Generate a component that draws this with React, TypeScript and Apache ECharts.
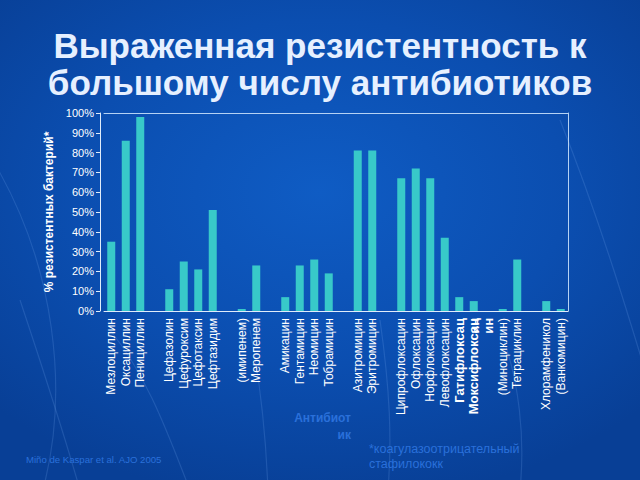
import React, { useEffect, useRef } from "react";
import * as echarts from "echarts";

const categories = [
  "Мезлоциллин", "Оксациллин", "Пенициллин", "",
  "Цефазолин", "Цефуроксим", "Цефотаксин", "Цефтазидим", "",
  "(имипенем)", "Меропенем", "",
  "Амикацин", "Гентамицин", "Неомицин", "Тобрамицин", "",
  "Азитромицин", "Эритромицин", "",
  "Ципрофлоксацин", "Офлоксацин", "Норфлоксацин", "Левофлоксацин",
  " \nГатифлоксац\nин", " \nМоксифлоксац\nин", "",
  "(Миноциклин)", "Тетрациклин", "",
  "Хлорамфеникол", "(Ванкомицин)",
];
const boldCategories = [" \nГатифлоксац\nин", " \nМоксифлоксац\nин"];

const resistance = [
  35, 86, 98, null,
  11, 25, 21, 51, null,
  1, 23, null,
  7, 23, 26, 19, null,
  81, 81, null,
  67, 72, 67, 37,
  7, 5, null,
  1, 26, null,
  5, 1,
];

const yTicks = [0, 10, 20, 30, 40, 50, 60, 70, 80, 90, 100];

const titleLines = ["Выраженная резистентность к", "большому числу антибиотиков"];
const yAxisName = "% резистентных бактерий*";
const xAxisNameLines = ["Антибиот", "ик"];
const footnoteLines = ["*коагулазоотрицательный", "стафилококк"];
const sourceText = "Miño de Kaspar et al. AJO 2005";

export default function App() {
  const ref = useRef<HTMLDivElement>(null);

  useEffect(() => {
    if (!ref.current) return;
    const chart = echarts.init(ref.current, undefined, { renderer: "svg" });
    const faint = "#2a70da";
    const lineCol = "#e0ecfa";
    const font = "Liberation Sans, Arial, sans-serif";
    const curves = [
      [[-20, 140], [60, 260], [70, 400], [40, 500]],
      [[110, 330], [150, 380], [170, 440], [190, 490]],
      [[560, 120], [600, 220], [630, 320], [660, 420]],
      [[500, 330], [520, 380], [525, 440], [520, 490]],
      [[380, 320], [390, 390], [392, 440], [388, 490]],
      [[20, 300], [40, 360], [60, 420], [80, 490]],
      [[250, 330], [262, 390], [266, 440], [268, 490]],
    ];
    chart.setOption({
      animation: false,
      backgroundColor: "transparent",
      title: {
        text: titleLines.join("\n"),
        left: "center",
        top: 22,
        textStyle: {
          color: "#e6f0ff",
          fontSize: 35,
          fontWeight: "bold",
          fontFamily: font,
          lineHeight: 37,
        },
      },
      grid: {
        left: 104,
        right: 72,
        top: 113,
        bottom: 169,
        show: false,
      },
      xAxis: [
        {
          type: "category",
          data: categories.map((c) =>
            boldCategories.includes(c)
              ? { value: c, textStyle: { fontWeight: "bold", fontSize: 13, lineHeight: 15 } }
              : c
          ),
          axisLine: { show: true, lineStyle: { color: lineCol, width: 1 } },
          axisTick: { show: false },
          axisLabel: {
            interval: 0,
            rotate: 90,
            color: "#ffffff",
            fontSize: 12,
            margin: 7,
            fontFamily: font,
          },
        },
        {
          type: "category",
          position: "top",
          data: categories,
          axisLine: { show: true, onZero: false, lineStyle: { color: "#b5d2f4", width: 1 } },
          axisTick: { show: false },
          axisLabel: { show: false },
        },
      ],
      yAxis: [
        {
          type: "value",
          min: 0,
          max: 100,
          interval: 10,
          offset: 4,
          name: yAxisName,
          nameLocation: "middle",
          nameRotate: 90,
          nameGap: 37,
          nameTextStyle: {
            color: "#ffffff",
            fontSize: 12,
            fontWeight: "bold",
            fontFamily: font,
          },
          axisLine: { show: true, lineStyle: { color: lineCol, width: 1 } },
          axisTick: { show: true, length: 4, lineStyle: { color: lineCol } },
          splitLine: { show: false },
          axisLabel: {
            color: "#ffffff",
            fontSize: 11,
            margin: 6,
            fontFamily: font,
            formatter: (v: number) => (yTicks.includes(v) ? v + "%" : ""),
          },
        },
        {
          type: "value",
          position: "right",
          min: 0,
          max: 100,
          interval: 10,
          axisLine: { show: true, onZero: false, lineStyle: { color: "#b5d2f4", width: 1 } },
          axisTick: { show: false },
          axisLabel: { show: false },
          splitLine: { show: false },
        },
      ],
      series: [
        {
          type: "bar",
          data: resistance,
          barWidth: 8,
          itemStyle: { color: "#38c9c9" },
        },
      ],
      graphic: [
        ...curves.map((c) => ({
          type: "bezierCurve",
          silent: true,
          z: -10,
          shape: {
            x1: c[0][0], y1: c[0][1],
            cpx1: c[1][0], cpy1: c[1][1],
            cpx2: c[2][0], cpy2: c[2][1],
            x2: c[3][0], y2: c[3][1],
          },
          style: { stroke: "rgba(120,170,240,0.2)", lineWidth: 1.2, fill: null },
        })),
        {
          type: "text",
          x: 351,
          y: 409,
          style: {
            text: xAxisNameLines.join("\n"),
            fill: faint,
            fontSize: 12,
            fontWeight: "bold",
            lineHeight: 17,
            align: "right",
            verticalAlign: "top",
            fontFamily: font,
          },
        },
        {
          type: "text",
          x: 369,
          y: 441,
          style: {
            text: footnoteLines.join("\n"),
            fill: faint,
            fontSize: 12.5,
            lineHeight: 15,
            fontFamily: font,
          },
        },
        {
          type: "text",
          x: 26,
          y: 454,
          style: {
            text: sourceText,
            fill: faint,
            fontSize: 9.6,
            fontFamily: font,
          },
        },
      ],
    });
    return () => chart.dispose();
  }, []);

  return (
    <div
      style={{
        position: "absolute",
        left: 0,
        top: 0,
        width: 640,
        height: 480,
        background:
          "radial-gradient(ellipse 70% 65% at 50% 40%, #0f5cc4 0%, #0b4eb0 55%, #083f96 100%)",
      }}
    >
      <div ref={ref} style={{ width: 640, height: 480 }} />
    </div>
  );
}
